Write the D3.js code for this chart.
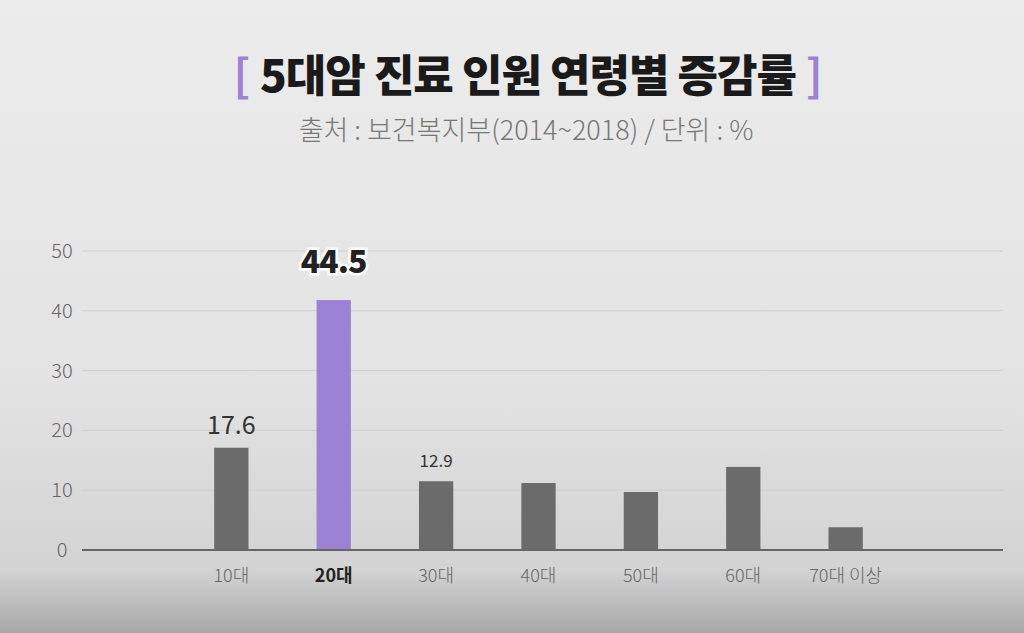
<!DOCTYPE html>
<meta charset="utf-8">
<style>
html, body { margin: 0; padding: 0; }
svg text { font-family: "Noto Sans CJK KR", "Noto Sans", sans-serif; }
</style>
<svg id="chart" width="1024" height="633"></svg>
<script src="https://cdn.jsdelivr.net/npm/d3@7"></script>
<script>
// bar heights as drawn, and the labels printed above some of them
var categories = ["10대", "20대", "30대", "40대", "50대", "60대", "70대 이상"];
var values = [17.1, 41.8, 11.5, 11.2, 9.7, 13.9, 3.8];
var valueLabels = ["17.6", "44.5", "12.9", "", "", "", ""];
var yTicks = [0, 10, 20, 30, 40, 50];
var highlight = "20대";

var svg = d3.select("#chart");

var defs = svg.append("defs");
var grad = defs.append("linearGradient").attr("id", "bg")
    .attr("x1", 0).attr("y1", 0).attr("x2", 0).attr("y2", 1);
grad.append("stop").attr("offset", "0%").attr("stop-color", "#ececec");
grad.append("stop").attr("offset", "60%").attr("stop-color", "#e3e3e3");
grad.append("stop").attr("offset", "90%").attr("stop-color", "#d3d3d3");
grad.append("stop").attr("offset", "100%").attr("stop-color", "#a8a8a8");
svg.append("rect").attr("width", 1024).attr("height", 633).attr("fill", "url(#bg)");

// title
var title = svg.append("text").attr("x", 528).attr("y", 92)
    .attr("text-anchor", "middle").attr("font-size", 44).attr("font-weight", 900)
    .attr("fill", "#1a1a1a");
title.append("tspan").attr("fill", "#9b82d4").attr("font-weight", 700).text("[ ");
title.append("tspan").attr("letter-spacing", -1).text("5대암 진료 인원 연령별 증감률");
title.append("tspan").attr("fill", "#9b82d4").attr("font-weight", 700).text(" ]");

svg.append("text").attr("x", 526).attr("y", 140).attr("text-anchor", "middle")
    .attr("font-size", 27).attr("font-weight", 300).attr("fill", "#777")
    .text("출처 : 보건복지부(2014~2018) / 단위 : %");

var x = d3.scaleBand().domain(["_a"].concat(categories, ["_b"]))
    .range([78, 999]).paddingInner(0.665).paddingOuter(0.33);
var y = d3.scaleLinear().domain([0, 50]).range([550, 251]);

svg.append("g").selectAll("line").data(yTicks.slice(1)).enter().append("line")
    .attr("x1", 82).attr("x2", 1003)
    .attr("y1", function(d) { return y(d); }).attr("y2", function(d) { return y(d); })
    .attr("stroke", "#cfcfcf").attr("stroke-width", 1);

svg.append("g").selectAll("text").data(yTicks).enter().append("text")
    .attr("x", 62).attr("y", function(d) { return y(d) + 7; })
    .attr("text-anchor", "middle").attr("font-size", 20).attr("font-weight", 300)
    .attr("fill", "#666")
    .text(function(d) { return d; });

svg.append("g").selectAll("rect").data(values).enter().append("rect")
    .attr("x", function(d, i) { return x(categories[i]); })
    .attr("width", x.bandwidth())
    .attr("y", function(d) { return y(d); })
    .attr("height", function(d) { return y(0) - y(d); })
    .attr("fill", function(d, i) { return categories[i] === highlight ? "#9b82d4" : "#6b6b6b"; });

svg.append("line").attr("x1", 82).attr("x2", 1003).attr("y1", 550).attr("y2", 550)
    .attr("stroke", "#666").attr("stroke-width", 2);

svg.append("g").selectAll("text").data(categories).enter().append("text")
    .attr("x", function(d) { return x(d) + x.bandwidth() / 2; }).attr("y", 582)
    .attr("text-anchor", "middle").attr("font-size", 18)
    .attr("font-weight", function(d) { return d === highlight ? 700 : 300; })
    .attr("fill", function(d) { return d === highlight ? "#222" : "#666"; })
    .text(function(d) { return d; });

// value labels
var sizes = [25, 32, 17];
svg.append("g").selectAll("text").data(valueLabels).enter().append("text")
    .attr("x", function(d, i) { return x(categories[i]) + x.bandwidth() / 2; })
    .attr("y", function(d, i) { return i === 1 ? 273 : y(values[i]) - 14; })
    .attr("text-anchor", "middle")
    .attr("font-size", function(d, i) { return sizes[i] || 16; })
    .attr("font-weight", function(d, i) { return i === 1 ? 900 : 400; })
    .attr("letter-spacing", function(d, i) { return i === 1 ? -1 : 0; })
    .attr("fill", function(d, i) { return i === 1 ? "#222" : "#333"; })
    .attr("stroke", function(d, i) { return i === 1 ? "#fff" : null; })
    .attr("stroke-width", function(d, i) { return i === 1 ? 5 : 0; })
    .attr("paint-order", "stroke")
    .text(function(d) { return d; });
</script>
